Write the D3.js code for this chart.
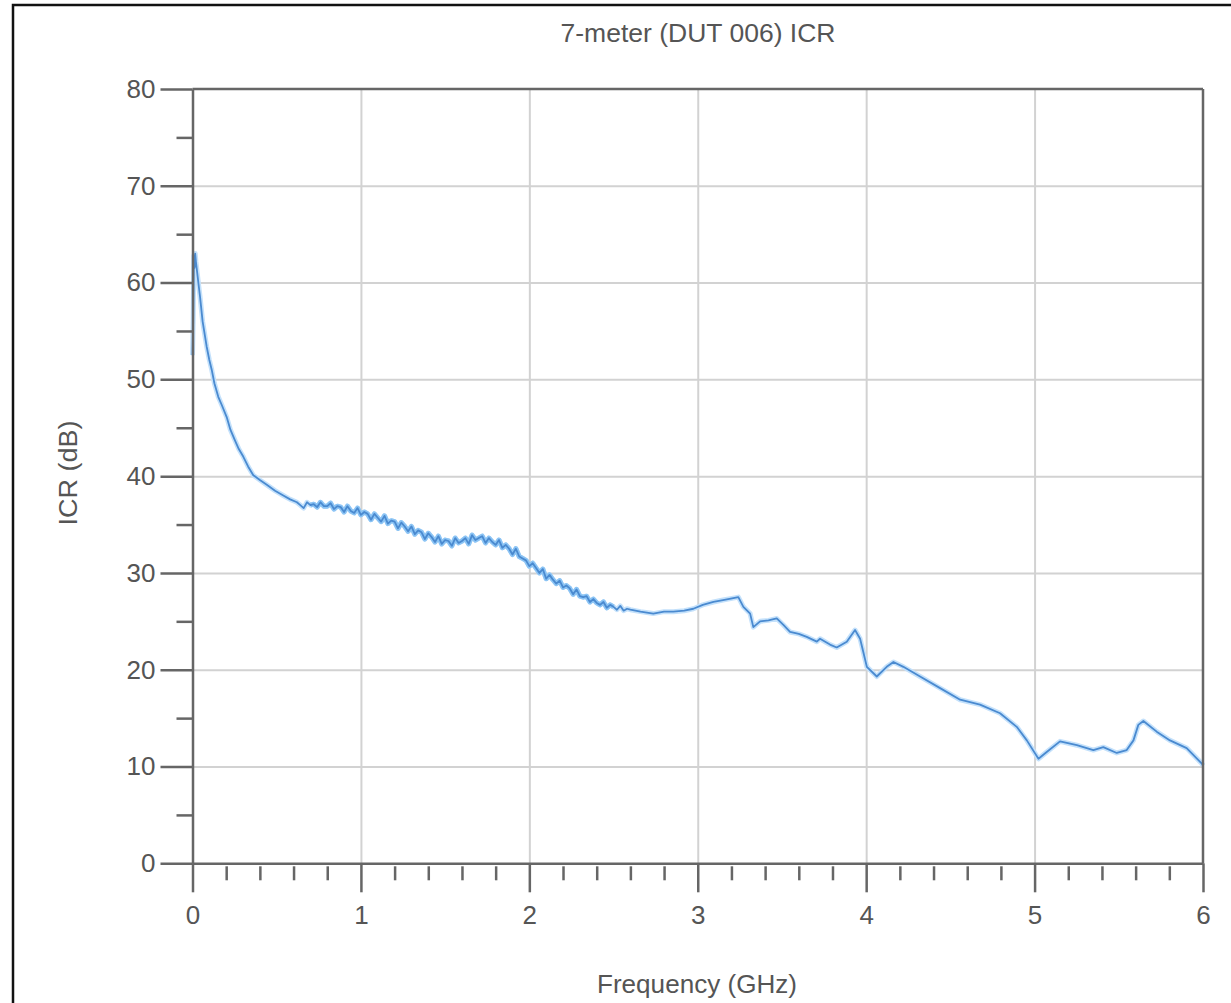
<!DOCTYPE html>
<html lang="en">
<head>
  <meta charset="UTF-8">
  <title>7-meter (DUT 006) ICR</title>
  <style>
    body { margin: 0; background: #fff; }
    svg { display: block; }
    text { font-family: "Liberation Sans", Arial, sans-serif; fill: #555; }
  </style>
</head>
<body>
  <script src="https://cdn.jsdelivr.net/npm/d3@7/dist/d3.min.js"></script>
  <script>
    let title = "7-meter (DUT 006) ICR";
    let xTitle = "Frequency (GHz)";
    let yTitle = "ICR (dB)";
    let xTicks = [0, 1, 2, 3, 4, 5, 6];
    let xMinor = [0.2, 0.4, 0.6, 0.8, 1.2, 1.4, 1.6, 1.8, 2.2, 2.4, 2.6, 2.8, 3.2, 3.4, 3.6, 3.8,
      4.2, 4.4, 4.6, 4.8, 5.2, 5.4, 5.6, 5.8];
    let yTicks = [0, 10, 20, 30, 40, 50, 60, 70, 80];
    let yMinor = [5, 15, 25, 35, 45, 55, 65, 75];

    // frequency (GHz)
    let freq = [0, 0.004, 0.008, 0.012, 0.016, 0.02, 0.028, 0.036, 0.045, 0.06, 0.084, 0.1, 0.114, 0.13,
      0.153, 0.175, 0.203, 0.225, 0.252, 0.275, 0.302, 0.33, 0.361, 0.4, 0.441, 0.49, 0.539, 0.58, 0.62,
      0.64, 0.66, 0.68, 0.7, 0.72, 0.74, 0.76, 0.78, 0.8, 0.82, 0.84, 0.86, 0.88, 0.9, 0.92, 0.94, 0.96, 0.98,
      1.0, 1.02, 1.04, 1.06, 1.08, 1.1, 1.12, 1.14, 1.16, 1.18, 1.2, 1.22, 1.24, 1.26, 1.28, 1.3, 1.32, 1.34,
      1.36, 1.38, 1.4, 1.42, 1.44, 1.46, 1.48, 1.5, 1.52, 1.54, 1.56, 1.58, 1.6, 1.62, 1.64, 1.66, 1.68, 1.7,
      1.72, 1.74, 1.76, 1.78, 1.8, 1.82, 1.84, 1.86, 1.88, 1.9, 1.92, 1.94, 1.96, 1.98, 2.0, 2.02, 2.04, 2.06,
      2.08, 2.1, 2.12, 2.14, 2.16, 2.18, 2.2, 2.22, 2.24, 2.26, 2.28, 2.3, 2.32, 2.34, 2.36, 2.38, 2.4, 2.42,
      2.44, 2.46, 2.48, 2.5, 2.52, 2.54, 2.56, 2.58, 2.6,
      2.66, 2.736, 2.8, 2.855, 2.92, 2.974, 3.03, 3.093, 3.15, 3.211, 3.241, 3.271, 3.311, 3.33, 3.37, 3.42,
      3.469, 3.51, 3.548, 3.6, 3.647, 3.707, 3.726, 3.785, 3.825, 3.885, 3.934, 3.964, 4.004, 4.063, 4.122,
      4.162, 4.221, 4.32, 4.439, 4.558, 4.676, 4.795, 4.894, 4.954, 5.023, 5.072, 5.151, 5.251, 5.349, 5.408,
      5.488, 5.547, 5.587, 5.616, 5.646, 5.725, 5.804, 5.903, 5.993, 6.0];
    // ICR (dB)
    let icr = [52.5, 56.0, 62.8, 61.5, 63.0, 62.2, 61.0, 59.8, 58.5, 56.0, 53.4, 52.0, 51.0, 49.6,
      48.2, 47.3, 46.1, 44.8, 43.7, 42.8, 42.0, 41.0, 40.1, 39.6, 39.1, 38.5, 38.0, 37.6, 37.3,
      37.0, 36.7, 37.3, 37.0, 37.1, 36.8, 37.3, 36.9, 36.9, 37.2, 36.6, 36.9, 36.8, 36.3, 36.9, 36.4, 36.2, 36.7,
      36.0, 36.3, 36.1, 35.5, 36.1, 35.7, 35.3, 35.9, 35.1, 35.4, 35.3, 34.6, 35.2, 34.8, 34.3, 34.8, 34.0, 34.4,
      34.2, 33.5, 34.1, 33.7, 33.2, 33.8, 33.0, 33.4, 33.3, 32.8, 33.6, 33.1, 33.3, 33.6, 33.0, 33.9, 33.4, 33.6,
      33.8, 33.1, 33.6, 33.2, 32.9, 33.4, 32.6, 32.9, 32.5, 31.9, 32.5, 31.7, 31.5, 31.3, 30.7, 31.0, 30.5, 30.0,
      30.4, 29.4, 29.8, 29.3, 28.9, 29.2, 28.5, 28.7, 28.4, 27.8, 28.3, 27.6, 27.5, 27.6, 27.0, 27.3, 26.9, 26.7,
      27.0, 26.4, 26.7, 26.5, 26.2, 26.6, 26.1, 26.3, 26.2,
      26.0, 25.8, 26.0, 26.0, 26.1, 26.3, 26.7, 27.0, 27.2, 27.4, 27.5, 26.5, 25.8, 24.4, 25.0, 25.1,
      25.3, 24.6, 23.9, 23.7, 23.4, 22.9, 23.2, 22.6, 22.3, 22.9, 24.1, 23.2, 20.3, 19.3, 20.3,
      20.8, 20.3, 19.3, 18.1, 16.9, 16.4, 15.5, 14.1, 12.7, 10.8, 11.5, 12.6, 12.2, 11.7, 12.0,
      11.4, 11.7, 12.7, 14.3, 14.7, 13.6, 12.7, 11.9, 10.3, 10.1];

    let width = 1231,
      height = 1003;
    let mLeft = 192.5, mRight = 1203, mTop = 89, mBottom = 863.3;

    let svg = d3.select("body")
      .append("svg")
      .attr("width", width)
      .attr("height", height);

    // outer frame (cut at right and bottom)
    svg.append("rect")
      .attr("x", 13)
      .attr("y", 5)
      .attr("width", 1240)
      .attr("height", 1010)
      .attr("fill", "#fff")
      .attr("stroke", "#111")
      .attr("stroke-width", 2.5);

    let x = d3.scaleLinear().domain([0, 6]).range([mLeft, mRight]);
    let y = d3.scaleLinear().domain([0, 80]).range([mBottom, mTop]);

    // grid
    svg.append("g")
      .attr("transform", `translate(0,${mBottom})`)
      .call(d3.axisBottom(x).tickValues(xTicks.slice(1, -1)).tickSize(-(mBottom - mTop)).tickFormat(""))
      .call(g => g.select(".domain").remove())
      .selectAll("line").attr("stroke", "#d2d2d2").attr("stroke-width", 2);
    svg.append("g")
      .attr("transform", `translate(${mLeft},0)`)
      .call(d3.axisLeft(y).tickValues(yTicks.slice(1, -1)).tickSize(-(mRight - mLeft)).tickFormat(""))
      .call(g => g.select(".domain").remove())
      .selectAll("line").attr("stroke", "#d2d2d2").attr("stroke-width", 2);

    // trace: light halo, thicker over the noisy stretch, then the line itself
    let pts = icr.map((d, i) => [freq[i], d]);
    let line = d3.line()
      .x(d => x(d[0]))
      .y(d => y(d[1]));
    svg.append("path")
      .datum(pts)
      .attr("d", line)
      .attr("fill", "none")
      .attr("stroke", "#c4e1fb")
      .attr("stroke-width", 5)
      .attr("stroke-linejoin", "round");
    svg.append("path")
      .datum(pts.filter(d => d[0] >= 0.7 && d[0] <= 2.5))
      .attr("d", line)
      .attr("fill", "none")
      .attr("stroke", "#8cc4f4")
      .attr("stroke-width", 5)
      .attr("stroke-linejoin", "round");
    svg.append("path")
      .datum(pts)
      .attr("d", line)
      .attr("fill", "none")
      .attr("stroke", "#4a8ad0")
      .attr("stroke-width", 1.8)
      .attr("stroke-linejoin", "round");

    // y axis, major and minor ticks
    svg.append("g")
      .attr("class", "axis")
      .attr("transform", `translate(${mLeft},0)`)
      .call(d3.axisLeft(y).tickValues(yTicks).tickSize(32).tickSizeOuter(0).tickPadding(5));
    svg.append("g")
      .attr("class", "axis")
      .attr("transform", `translate(${mLeft},0)`)
      .call(d3.axisLeft(y).tickValues(yMinor).tickSize(16).tickFormat(""))
      .call(g => g.select(".domain").remove());

    // x axis
    svg.append("g")
      .attr("class", "axis")
      .attr("transform", `translate(0,${mBottom})`)
      .call(d3.axisBottom(x).tickValues(xTicks).tickSize(29).tickSizeOuter(0).tickPadding(13)
        .tickFormat(d3.format("d")));
    svg.append("g")
      .attr("class", "axis")
      .attr("transform", `translate(0,${mBottom + 3})`)
      .call(d3.axisBottom(x).tickValues(xMinor).tickSize(14).tickFormat(""))
      .call(g => g.select(".domain").remove());

    // top and right border of the plot
    svg.append("line")
      .attr("class", "border")
      .attr("x1", mLeft).attr("x2", mRight)
      .attr("y1", mTop).attr("y2", mTop);
    svg.append("line")
      .attr("class", "border")
      .attr("x1", mRight).attr("x2", mRight)
      .attr("y1", mTop).attr("y2", mBottom);

    svg.selectAll(".axis .domain, .axis .tick line, line.border")
      .attr("stroke", "#666")
      .attr("stroke-width", 2.5);
    svg.selectAll(".axis .tick text")
      .attr("fill", "#555")
      .style("font-size", "26px")
      .style("font-family", "'Liberation Sans', Arial, sans-serif");

    // titles
    svg.append("text")
      .attr("x", 698)
      .attr("y", 42)
      .attr("text-anchor", "middle")
      .attr("textLength", 275)
      .attr("lengthAdjust", "spacingAndGlyphs")
      .style("font-size", "25px")
      .text(title);
    svg.append("text")
      .attr("x", 697)
      .attr("y", 993)
      .attr("text-anchor", "middle")
      .attr("textLength", 200)
      .attr("lengthAdjust", "spacingAndGlyphs")
      .style("font-size", "25px")
      .text(xTitle);
    svg.append("text")
      .attr("transform", "translate(77,473) rotate(-90)")
      .attr("text-anchor", "middle")
      .attr("textLength", 105)
      .attr("lengthAdjust", "spacingAndGlyphs")
      .style("font-size", "25px")
      .text(yTitle);
  </script>
</body>
</html>
